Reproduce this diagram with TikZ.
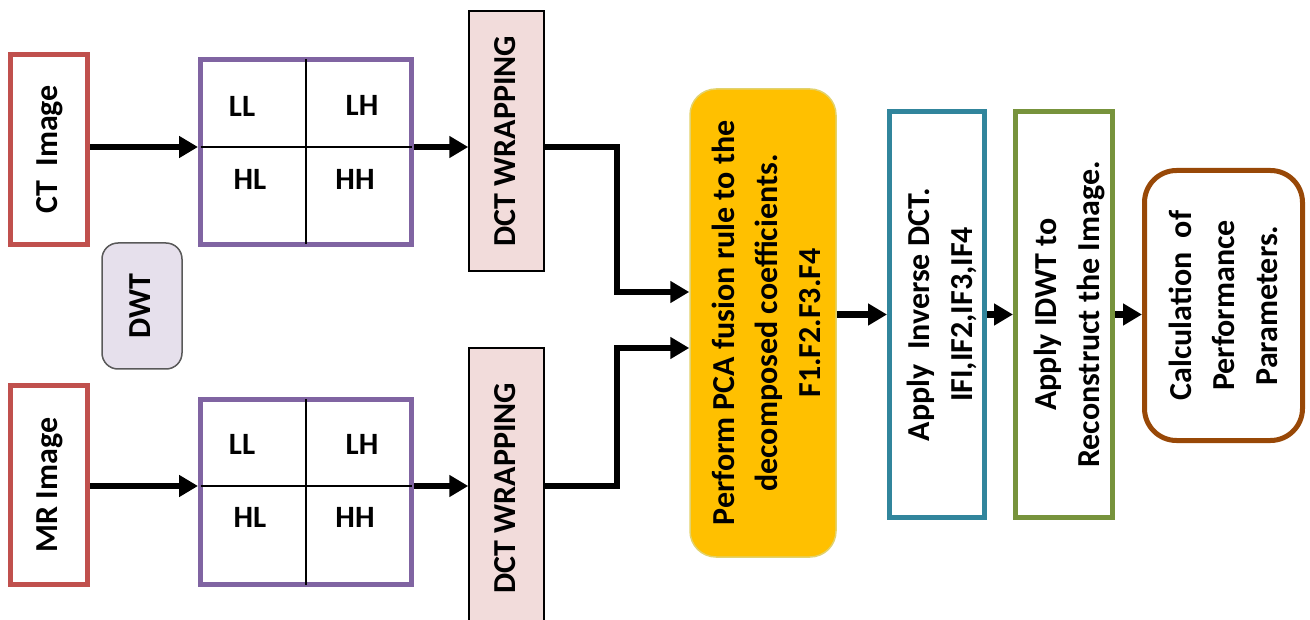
\documentclass[tikz,border=0pt]{standalone}
\usepackage{fontspec}
\setmainfont{Carlito}
\usepackage{graphicx}
\usetikzlibrary{arrows.meta}
\definecolor{redc}{HTML}{C0504D}
\definecolor{purc}{HTML}{8064A2}
\definecolor{pinkc}{HTML}{F2DCDB}
\definecolor{lavc}{HTML}{E6E0EC}
\definecolor{goldc}{HTML}{FFC000}
\definecolor{goldb}{HTML}{E3D26B}
\definecolor{tealc}{HTML}{31859C}
\definecolor{greenc}{HTML}{77933C}
\definecolor{brownc}{HTML}{984807}
\definecolor{dwtb}{HTML}{595959}
\newcommand{\vtxt}[1]{\rotatebox{90}{\begin{tabular}{@{}c@{}}#1\end{tabular}}}
\begin{document}
\begin{tikzpicture}[x=1pt,y=-1pt,
  every node/.style={font=\fontsize{32}{43}\selectfont\bfseries, inner sep=0pt},
  imgbox/.style={draw=redc, line width=5pt, fill=white, minimum width=77pt},
  gridbox/.style={draw=purc, line width=5pt, minimum width=211pt, minimum height=185pt},
  gridline/.style={line width=2pt, shorten >=2.5pt, shorten <=2.5pt},
  cell/.style={font=\fontsize{31}{36}\selectfont\bfseries},
  dctbox/.style={draw=black, line width=1.5pt, fill=pinkc, minimum width=75pt},
  stepbox/.style={line width=5pt, fill=white, minimum height=406pt},
  conn/.style={line width=6.5pt, -{Triangle[length=19pt,width=21pt]}}
]
\useasboundingbox (0,0) rectangle (1310,620);
\clip (0,0) rectangle (1310,620);

% input images
\node[imgbox, minimum height=190pt] (ct) at (49,149.5) {\vtxt{CT~~Image}};
\node[imgbox, minimum height=199pt] (mr) at (49,485) {\vtxt{MR Image}};

% DWT label
\node[draw=dwtb, line width=1.5pt, fill=lavc, rounded corners=16pt,
      minimum width=80pt, minimum height=126pt] (dwt) at (142,306) {\vtxt{DWT}};

% sub-band grids
\coordinate (g1h) at (306,147);
\coordinate (g2h) at (306,486);
\node[gridbox] (g1) at (306,152) {};
\node[gridbox] (g2) at (306,492) {};
\draw[gridline] (g1.north) -- (g1.south);
\draw[gridline] (g1.west|-g1h) -- (g1.east|-g1h);
\draw[gridline] (g2.north) -- (g2.south);
\draw[gridline] (g2.west|-g2h) -- (g2.east|-g2h);
\node[cell] (ll1) at (242,106) {LL};
\node[cell] (lh1) at (362,105) {LH};
\node[cell] (hl1) at (250,179) {HL};
\node[cell] (hh1) at (355,179) {HH};
\node[cell] (ll2) at (242,444) {LL};
\node[cell] (lh2) at (362,444) {LH};
\node[cell] (hl2) at (250,517) {HL};
\node[cell] (hh2) at (355,517) {HH};

% DCT wrapping boxes
\node[dctbox, minimum height=260pt] (d1) at (506.5,141) {\vtxt{DCT WRAPPING}};
\node[dctbox, minimum height=280pt] (d2) at (506.5,488) {\vtxt{DCT WRAPPING}};

% PCA fusion
\node[draw=goldb, line width=1.5pt, fill=goldc, rounded corners=26pt,
      minimum width=146pt, minimum height=468pt,
      label={[name=pcat, xshift=6pt]center:\vtxt{Perform PCA fusion rule to the\\decomposed coefficients.\\F1.F2.F3.F4}}]
      (pca) at (763,323) {};

% later steps
\node[stepbox, draw=tealc, minimum width=95pt,
      label={[name=invt, xshift=5pt]center:\vtxt{Apply~~Inverse DCT.\\IFI,IF2,IF3,IF4}}]
      (inv) at (937,314.5) {};
\node[stepbox, draw=greenc, minimum width=97pt,
      label={[name=idwtt, xshift=5pt]center:\vtxt{Apply IDWT to\\Reconstruct the Image.}}]
      (idwt) at (1064,314.5) {};
\node[draw=brownc, line width=5pt, fill=white, rounded corners=32pt,
      minimum width=158pt, minimum height=270pt,
      label={[name=calct, xshift=2pt]center:\vtxt{Calculation~~of\\Performance\\Parameters.}}]
      (calc) at (1223.5,305.5) {};

% connectors
\draw[conn] (ct.east|-g1h) -- (g1.west|-g1h);
\draw[conn] (mr.east|-g2h) -- (g2.west|-g2h);
\draw[conn] (g1.east|-g1h) -- (d1.west|-g1h);
\draw[conn] (g2.east|-g2h) -- (d2.west|-g2h);
\coordinate (j1) at (617,292);
\coordinate (j2) at (617,348);
\draw[conn] (d1.east|-g1h) -| (j1) -- (pca.west|-j1);
\draw[conn] (d2.east|-g2h) -| (j2) -- (pca.west|-j2);
\draw[conn] (pca.east|-inv.west) -- (inv.west);
\draw[conn] (inv.east) -- (idwt.west);
\draw[conn] (idwt.east) -- (calc.west|-idwt.east);
\end{tikzpicture}
\end{document}
